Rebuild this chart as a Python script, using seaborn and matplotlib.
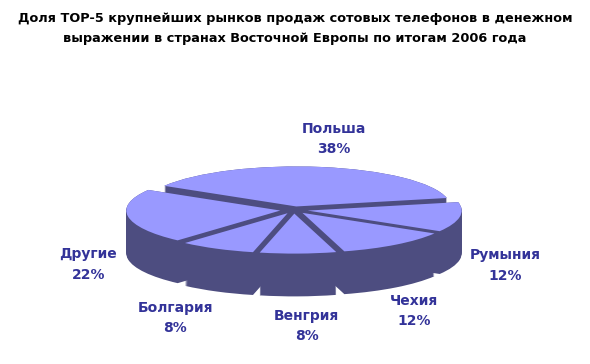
import matplotlib
matplotlib.use("Agg")
import matplotlib.pyplot as plt
import numpy as np
import seaborn as sns

sns.set_theme(style="white")
plt.rcParams['font.family'] = ['DejaVu Sans']

# data
countries = ['Польша', 'Румыния', 'Чехия', 'Венгрия', 'Болгария', 'Другие']
shares = [38, 12, 12, 8, 8, 22]

top_color = '#9999ff'
side_color = '#4d4d80'
label_color = '#333399'

title = ('Доля TOP-5 крупнейших рынков продаж сотовых телефонов в денежном\n'
         'выражении в странах Восточной Европы по итогам 2006 года')

depth = 1.07
explode = [0.09] * len(shares)
# small horizontal nudges for the labels (layout only)
label_dx = [0.04, 0.04, -0.04, 0.05, -0.15, 0.0]

fig = plt.figure(figsize=(5.9, 3.64), dpi=100)
ax = fig.add_axes([0, 0, 1, 1])

# side walls: stack of darker pies shifted downwards
for k in np.linspace(depth, 0, 45):
    ax.pie(shares, explode=explode, startangle=149, counterclock=False,
           colors=[side_color] * len(shares), center=(0, -k),
           wedgeprops=dict(linewidth=0))

# top surface
wedges, _ = ax.pie(shares, explode=explode, startangle=149, counterclock=False,
                   colors=[top_color] * len(shares), center=(0, 0),
                   wedgeprops=dict(linewidth=0))

# labels outside the slices
for w, name, val, dx in zip(wedges, countries, shares, label_dx):
    mid = np.deg2rad((w.theta1 + w.theta2) / 2)
    x = 1.35 * np.cos(mid) + dx
    y = 1.8 * np.sin(mid)
    if np.sin(mid) < 0:
        y -= 1.1
    ax.text(x, y, f'{name}\n{val}%', ha='center', va='center',
            fontsize=10, fontweight='bold', color=label_color, linespacing=1.6)

ax.set_aspect('auto')
ax.set_xlim(-294 / 154, 296 / 154)
ax.set_ylim(-154 / 40, 210 / 40)
ax.axis('off')

fig.text(0.5, 0.968, title, ha='center', va='top', fontsize=9.3,
         fontweight='bold', color='black', linespacing=1.75)

fig.savefig('out.png', dpi=100, facecolor='white')
